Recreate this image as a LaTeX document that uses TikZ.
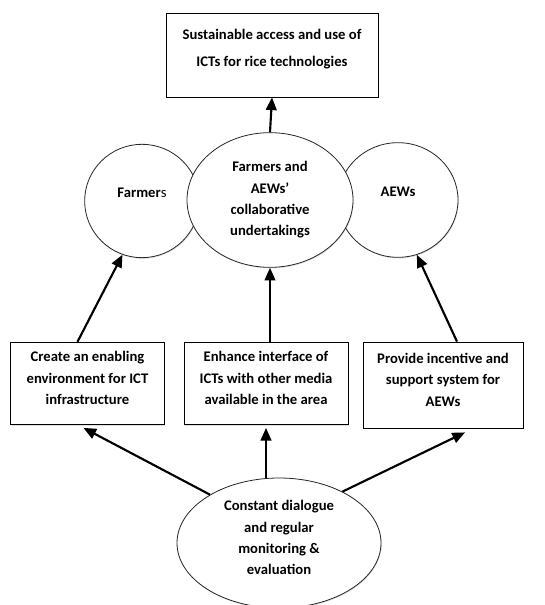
\documentclass[tikz,border=0pt]{standalone}
\usepackage{fontspec}
\setmainfont{Carlito}
\usetikzlibrary{arrows.meta, shapes.geometric, shadows}

\tikzset{
  box/.style={draw=black, line width=0.6pt, fill=white, align=center,
    drop shadow={shadow xshift=0.5pt, shadow yshift=-0.8pt, opacity=0.25},
    font=\bfseries\fontsize{11}{16}\selectfont, inner sep=2pt},
  bubble/.style={ellipse, draw=black!85, line width=0.6pt, fill=white, align=center,
    drop shadow={shadow xshift=0.5pt, shadow yshift=-0.8pt, opacity=0.25},
    font=\bfseries\fontsize{11}{16}\selectfont, inner sep=0pt},
  flow/.style={line width=1.6pt, -{Triangle[length=9.5pt, width=8pt]}}
}

\begin{document}
\begin{tikzpicture}[x=0.75pt, y=-0.75pt]
  \useasboundingbox[fill=white] (0,0) rectangle (544,605);
  \clip (0,0) rectangle (544,605);

  % Goal
  \node[box, minimum width=159pt, minimum height=63pt, text depth=10.5pt,
    font=\bfseries\fontsize{11}{20}\selectfont] (goal) at (272,55)
    {Sustainable access and use of\\ICTs for rice technologies};

  % Actors
  \node[bubble, minimum width=86pt, minimum height=85pt, text depth=12pt] (farmers) at (142,201)
    {Farmer{\mdseries s}};
  \node[bubble, minimum width=90pt, minimum height=86pt, text depth=12pt] (aews) at (398,200)
    {AEWs};
  \node[bubble, minimum width=124.5pt, minimum height=101pt] (collab) at (270,200)
    {Farmers and\\AEWs'\\collaborative\\undertakings};

  % Strategies
  \node[box, minimum width=115pt, minimum height=62pt, text depth=8pt] (lbox) at (87.5,383.5)
    {Create an enabling\\environment for ICT\\infrastructure};
  \node[box, minimum width=123pt, minimum height=62pt, text depth=8pt] (mbox) at (266,383.5)
    {Enhance interface of\\ICTs with other media\\available in the area};
  \node[box, minimum width=120pt, minimum height=64.5pt, text depth=8pt] (rbox) at (443,385)
    {Provide incentive and\\support system for\\AEWs};

  % Base
  \node[bubble, minimum width=153pt, minimum height=97.5pt, text depth=8pt] (dialogue) at (279,543)
    {Constant dialogue\\and regular\\monitoring \&\\evaluation};

  % Connectors
  \draw[flow] (collab.north) -- (goal.south);
  \draw[flow] ([xshift=-7.5pt]lbox.north) -- (farmers.250);
  \draw[flow] (collab.south |- mbox.north) -- (collab.south);
  \draw[flow] ([xshift=10.5pt]rbox.north) -- (aews.289);
  \draw[flow] (dialogue.145) -- ([xshift=-3pt, yshift=-2pt]lbox.south);
  \draw[flow] (dialogue.north -| mbox.south) -- ([yshift=-2pt]mbox.south);
  \draw[flow] (dialogue.39) -- ([xshift=16.5pt, yshift=-3pt]rbox.south);
\end{tikzpicture}
\end{document}
